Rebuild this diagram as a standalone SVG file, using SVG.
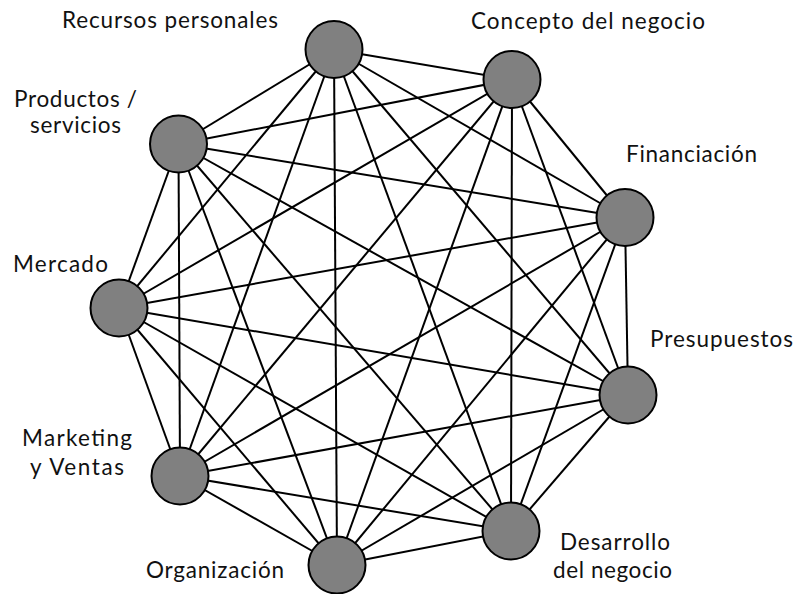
<svg xmlns="http://www.w3.org/2000/svg" width="798" height="594" viewBox="0 0 798 594">
  <style>
    .edge { stroke: #000; stroke-width: 2; fill: none; }
    .node circle { fill: #808080; stroke: #000; stroke-width: 2; }
    .label { font-family: Lato, "Open Sans", "Liberation Sans", sans-serif; font-size: 22.5px; fill: #111; }
  </style>
  <rect width="798" height="594" fill="#fff"/>

  <!-- every node is linked to every other node -->
  <g id="connectors" class="edge">
    <!-- Recursos personales -->
    <line x1="334" y1="49.5" x2="512" y2="79.5"/>
    <line x1="334" y1="49.5" x2="625" y2="217.5"/>
    <line x1="334" y1="49.5" x2="628" y2="395"/>
    <line x1="334" y1="49.5" x2="511" y2="531"/>
    <line x1="334" y1="49.5" x2="337" y2="565"/>
    <line x1="334" y1="49.5" x2="180" y2="476"/>
    <line x1="334" y1="49.5" x2="119" y2="308"/>
    <line x1="334" y1="49.5" x2="178.5" y2="144"/>
    <!-- Concepto del negocio -->
    <line x1="512" y1="79.5" x2="625" y2="217.5"/>
    <line x1="512" y1="79.5" x2="628" y2="395"/>
    <line x1="512" y1="79.5" x2="511" y2="531"/>
    <line x1="512" y1="79.5" x2="337" y2="565"/>
    <line x1="512" y1="79.5" x2="180" y2="476"/>
    <line x1="512" y1="79.5" x2="119" y2="308"/>
    <line x1="512" y1="79.5" x2="178.5" y2="144"/>
    <!-- Financiación -->
    <line x1="625" y1="217.5" x2="628" y2="395"/>
    <line x1="625" y1="217.5" x2="511" y2="531"/>
    <line x1="625" y1="217.5" x2="337" y2="565"/>
    <line x1="625" y1="217.5" x2="180" y2="476"/>
    <line x1="625" y1="217.5" x2="119" y2="308"/>
    <line x1="625" y1="217.5" x2="178.5" y2="144"/>
    <!-- Presupuestos -->
    <line x1="628" y1="395" x2="511" y2="531"/>
    <line x1="628" y1="395" x2="337" y2="565"/>
    <line x1="628" y1="395" x2="180" y2="476"/>
    <line x1="628" y1="395" x2="119" y2="308"/>
    <line x1="628" y1="395" x2="178.5" y2="144"/>
    <!-- Desarrollo del negocio -->
    <line x1="511" y1="531" x2="337" y2="565"/>
    <line x1="511" y1="531" x2="180" y2="476"/>
    <line x1="511" y1="531" x2="119" y2="308"/>
    <line x1="511" y1="531" x2="178.5" y2="144"/>
    <!-- Organización -->
    <line x1="337" y1="565" x2="180" y2="476"/>
    <line x1="337" y1="565" x2="119" y2="308"/>
    <line x1="337" y1="565" x2="178.5" y2="144"/>
    <!-- Marketing y Ventas -->
    <line x1="180" y1="476" x2="119" y2="308"/>
    <line x1="180" y1="476" x2="178.5" y2="144"/>
    <!-- Mercado -->
    <line x1="119" y1="308" x2="178.5" y2="144"/>
  </g>

  <g id="recursos" class="node">
    <circle cx="334" cy="49.5" r="28.5"/>
    <text class="label" x="62" y="28" textLength="216" lengthAdjust="spacing">Recursos personales</text>
  </g>
  <g id="concepto" class="node">
    <circle cx="512" cy="79.5" r="28.5"/>
    <text class="label" x="471" y="29" textLength="234" lengthAdjust="spacing">Concepto del negocio</text>
  </g>
  <g id="financiacion" class="node">
    <circle cx="625" cy="217.5" r="28.5"/>
    <text class="label" x="626" y="162" textLength="131" lengthAdjust="spacing">Financiación</text>
  </g>
  <g id="presupuestos" class="node">
    <circle cx="628" cy="395" r="28.5"/>
    <text class="label" x="650" y="347" textLength="143" lengthAdjust="spacing">Presupuestos</text>
  </g>
  <g id="desarrollo" class="node">
    <circle cx="511" cy="531" r="28.5"/>
    <text class="label" x="560" y="550" textLength="110" lengthAdjust="spacing">Desarrollo</text>
    <text class="label" x="553" y="578" textLength="119" lengthAdjust="spacing">del negocio</text>
  </g>
  <g id="organizacion" class="node">
    <circle cx="337" cy="565" r="28.5"/>
    <text class="label" x="146" y="578" textLength="138" lengthAdjust="spacing">Organización</text>
  </g>
  <g id="marketing" class="node">
    <circle cx="180" cy="476" r="28.5"/>
    <text class="label" x="22" y="446" textLength="110" lengthAdjust="spacing">Marketing</text>
    <text class="label" x="30" y="475" textLength="94" lengthAdjust="spacing">y Ventas</text>
  </g>
  <g id="mercado" class="node">
    <circle cx="119" cy="308" r="28.5"/>
    <text class="label" x="13" y="272" textLength="95" lengthAdjust="spacing">Mercado</text>
  </g>
  <g id="productos" class="node">
    <circle cx="178.5" cy="144" r="28.5"/>
    <text class="label" x="14" y="107" textLength="123" lengthAdjust="spacing">Productos /</text>
    <text class="label" x="30" y="133" textLength="91" lengthAdjust="spacing">servicios</text>
  </g>
</svg>
